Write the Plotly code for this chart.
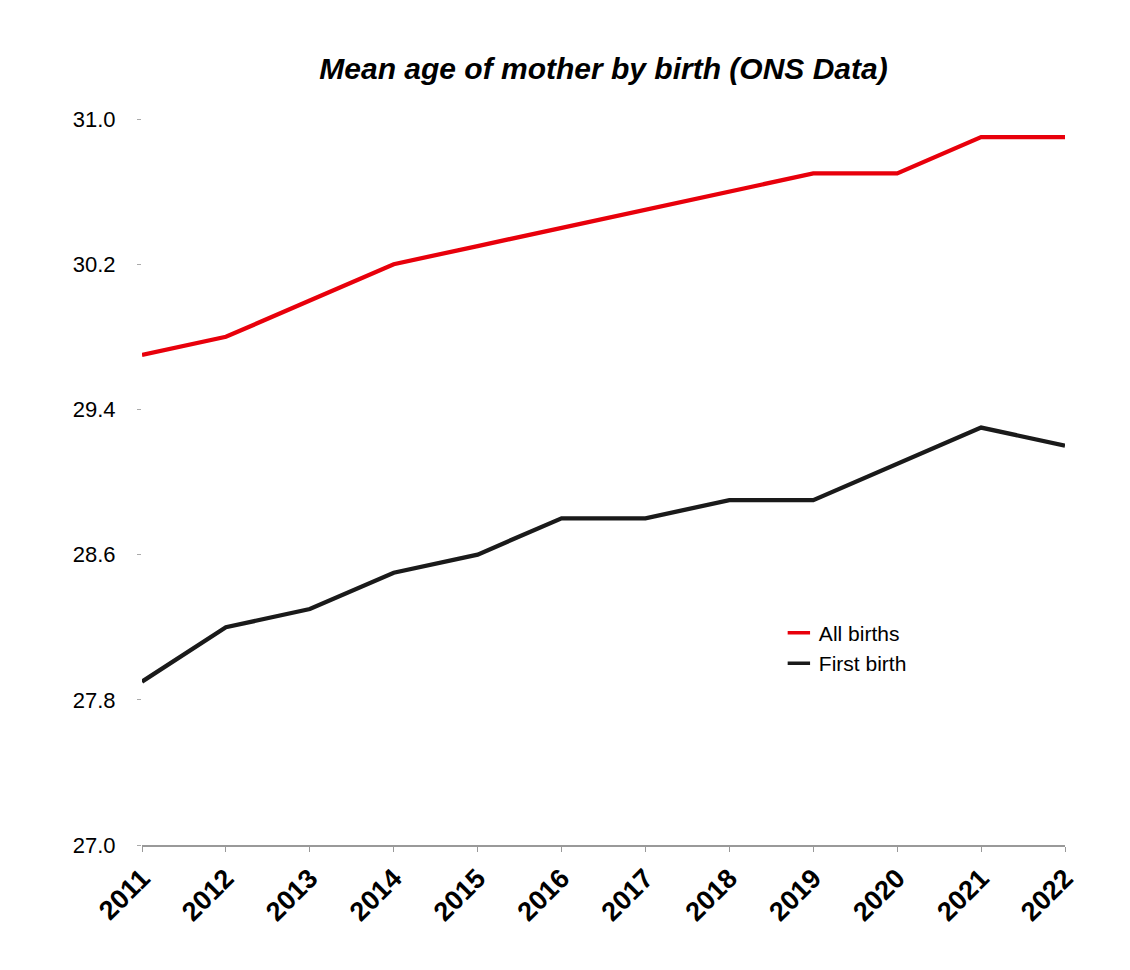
import plotly.graph_objects as go

years = [2011, 2012, 2013, 2014, 2015, 2016, 2017, 2018, 2019, 2020, 2021, 2022]
all_births = [29.7, 29.8, 30.0, 30.2, 30.3, 30.4, 30.5, 30.6, 30.7, 30.7, 30.9, 30.9]
first_birth = [27.9, 28.2, 28.3, 28.5, 28.6, 28.8, 28.8, 28.9, 28.9, 29.1, 29.3, 29.2]
y_ticks = [27.0, 27.8, 28.6, 29.4, 30.2, 31.0]
series_names = ["All births", "First birth"]
series_colors = ["#e8000b", "#1a1a1a"]

fig = go.Figure()
for vals, name, col in zip([all_births, first_birth], series_names, series_colors):
    fig.add_trace(go.Scatter(x=years, y=vals, mode="lines", name=name, showlegend=False,
                             line=dict(color=col, width=4.3)))
# legend entries with short line glyphs
for name, col in zip(series_names, series_colors):
    fig.add_trace(go.Scatter(x=[None], y=[None], mode="markers", name=name,
                             marker=dict(symbol="line-ew-open", size=16, color=col,
                                         line=dict(color=col, width=3.5))))

fig.update_layout(
    width=1130, height=970,
    margin=dict(l=134, r=73, t=111, b=133),
    paper_bgcolor="white", plot_bgcolor="white",
    font=dict(family="Liberation Sans, Arial, sans-serif", color="black"),
    title=dict(text="<b><i>Mean age of mother by birth (ONS Data)</i></b>",
               x=0.5, xref="paper", y=1 - 60 / 970, yanchor="middle",
               font=dict(size=30, color="black")),
    legend=dict(x=0.69, y=0.32, xanchor="left", yanchor="top",
                font=dict(size=21), bgcolor="rgba(0,0,0,0)",
                itemwidth=30, tracegroupgap=0),
    showlegend=True,
)
fig.update_xaxes(
    range=[2011, 2022], tickmode="array", tickvals=years,
    ticktext=["<b>%d</b>" % y for y in years], tickangle=-45,
    tickfont=dict(size=27, family="Liberation Sans, Arial, sans-serif"),
    showgrid=False, zeroline=False, showline=True, linecolor="#999999", linewidth=1.5,
    ticks="outside", ticklen=5, tickcolor="#999999", tickwidth=1,
)
fig.update_yaxes(
    range=[27.0, 31.0], tickmode="array", tickvals=y_ticks,
    ticktext=["%.1f" % v for v in y_ticks],
    tickfont=dict(size=22), showgrid=False, zeroline=False, showline=False,
    ticks="outside", ticklen=4, tickcolor="#aaaaaa", tickwidth=1, ticklabelstandoff=17,
)

fig.write_html("out.html")
